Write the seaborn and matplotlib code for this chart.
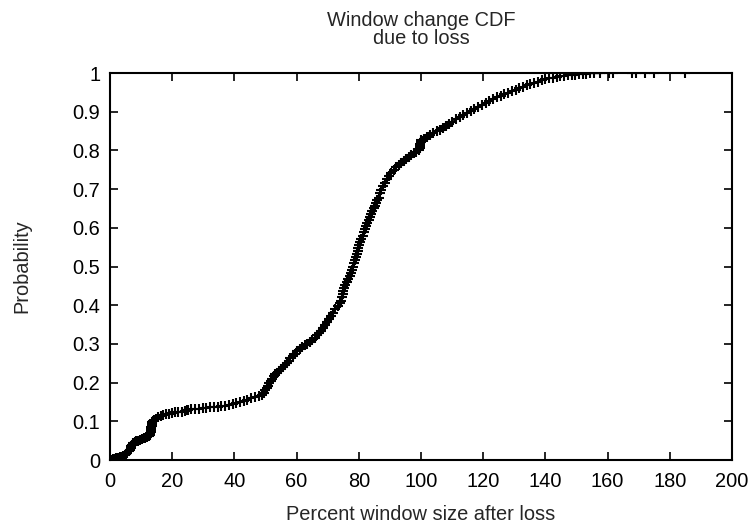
import pandas as pd
import matplotlib.pyplot as plt
import seaborn as sns

# Nilai, per bagian kurva (persen window setelah loss, probabilitas)
pct_a = [0.2, 0.5, 0.9, 1.3, 1.8, 2.3, 2.8, 3.3, 3.8, 4.3, 4.8, 5.2, 5.6, 6.0, 6.3,
         6.6, 6.9, 7.2, 7.5, 7.9, 8.4, 9.0, 9.6, 10.2, 10.8, 11.4, 12.0, 12.5, 12.9]
prob_a = [0.0, 0.001, 0.002, 0.003, 0.004, 0.005, 0.006, 0.007, 0.009, 0.011, 0.013,
          0.016, 0.019, 0.023, 0.027, 0.031, 0.035, 0.039, 0.043, 0.046, 0.048, 0.05,
          0.052, 0.054, 0.056, 0.058, 0.06, 0.062, 0.065]

pct_b = [13.0, 13.1, 13.2, 13.3, 13.3, 13.4, 13.5, 13.6, 13.8, 14.2, 14.8]
prob_b = [0.069, 0.073, 0.077, 0.081, 0.085, 0.089, 0.093, 0.097, 0.101, 0.104, 0.107]

pct_c = [15.5, 16.3, 17.1, 18.0, 19.0, 20.0, 21.0, 22.0, 23.0, 24.0, 24.6, 25.0, 26.2,
         27.4, 28.6, 29.8, 31.0, 32.2, 33.4, 34.6, 35.8, 37.0, 38.2, 39.4, 40.6, 41.8,
         43.0, 44.2, 45.4, 46.6, 47.8, 48.8, 49.5]
prob_c = [0.110, 0.113, 0.116, 0.118, 0.120, 0.122, 0.123, 0.124, 0.125, 0.126, 0.128,
          0.130, 0.131, 0.132, 0.133, 0.134, 0.135, 0.136, 0.137, 0.138, 0.139, 0.140,
          0.142, 0.144, 0.147, 0.150, 0.153, 0.156, 0.159, 0.162, 0.165, 0.169, 0.174]

pct_d = [50.0, 50.4, 50.8, 51.2, 51.7, 52.2, 52.7, 53.2, 53.8, 54.4, 55.0, 55.6, 56.2,
         56.8, 57.4, 58.0, 58.7, 59.4, 60.2, 61.0, 61.8, 62.6, 63.4, 64.2, 65.0, 65.8,
         66.6, 67.3, 68.0, 68.6, 69.2, 69.8, 70.4, 71.0, 71.7, 72.5, 73.3, 74.0]
prob_d = [0.180, 0.186, 0.192, 0.198, 0.204, 0.210, 0.216, 0.221, 0.226, 0.231, 0.236,
          0.241, 0.246, 0.251, 0.257, 0.263, 0.269, 0.275, 0.281, 0.286, 0.291, 0.296,
          0.301, 0.306, 0.311, 0.316, 0.322, 0.328, 0.334, 0.341, 0.348, 0.356, 0.364,
          0.372, 0.381, 0.390, 0.398, 0.405]

pct_e = [74.4, 74.6, 74.8, 75.0, 75.2, 75.6, 76.1, 76.6, 77.1, 77.5, 77.8, 78.1, 78.4,
         78.7, 79.0, 79.3, 79.6, 79.9, 80.2, 80.5, 80.8, 81.2, 81.6, 82.0, 82.4, 82.8,
         83.2, 83.6, 84.0, 84.4, 84.8, 85.2, 85.6, 86.0, 86.4, 86.8, 87.2, 87.7, 88.3,
         89.0, 89.7, 90.5, 91.3, 92.1, 92.9, 93.7, 94.5, 95.3, 96.1, 96.9, 97.7, 98.5,
         99.2]
prob_e = [0.412, 0.420, 0.428, 0.436, 0.444, 0.452, 0.460, 0.468, 0.476, 0.484, 0.492,
          0.500, 0.508, 0.516, 0.524, 0.532, 0.540, 0.548, 0.556, 0.564, 0.572, 0.580,
          0.588, 0.596, 0.604, 0.612, 0.620, 0.628, 0.636, 0.643, 0.650, 0.657, 0.664,
          0.671, 0.678, 0.690, 0.698, 0.708, 0.717, 0.727, 0.735, 0.742, 0.749, 0.756,
          0.762, 0.768, 0.773, 0.778, 0.783, 0.788, 0.793, 0.797, 0.801]

pct_f = [99.6, 99.7, 99.8, 99.9, 100.0]
prob_f = [0.806, 0.811, 0.816, 0.821, 0.826]

pct_g = [101.0, 102.0, 103.0, 104.0, 105.0, 106.0, 107.0, 108.0, 109.0, 110.0, 111.2,
         112.4, 113.6, 114.8, 116.0, 117.2, 118.4, 119.6, 120.8, 122.0, 123.2, 124.4,
         125.6, 126.8, 128.0, 129.2, 130.4, 131.6, 132.8, 134.0, 135.2, 136.4, 137.6,
         138.8, 140.0, 141.2, 142.4, 143.6, 144.8, 146.0, 147.2, 148.4, 149.6, 150.8,
         152.0, 153.2, 154.4]
prob_g = [0.829, 0.834, 0.839, 0.844, 0.849, 0.854, 0.859, 0.864, 0.869, 0.874, 0.880,
          0.886, 0.892, 0.897, 0.902, 0.907, 0.912, 0.917, 0.922, 0.927, 0.932, 0.937,
          0.941, 0.945, 0.949, 0.953, 0.957, 0.961, 0.965, 0.969, 0.972, 0.975, 0.978,
          0.981, 0.984, 0.986, 0.988, 0.990, 0.992, 0.993, 0.994, 0.995, 0.996, 0.997,
          0.998, 0.998, 0.999]

pct_h = [155.5, 157.6, 160.6, 161.6, 168.0, 169.0, 172.0, 175.0, 185.0]
prob_h = [0.999, 0.999, 1.0, 1.0, 1.0, 1.0, 1.0, 1.0, 1.0]

x_ticks = [0, 20, 40, 60, 80, 100, 120, 140, 160, 180, 200]
y_ticks = [0, 0.1, 0.2, 0.3, 0.4, 0.5, 0.6, 0.7, 0.8, 0.9, 1]
y_tick_labels = ['0', '0.1', '0.2', '0.3', '0.4', '0.5', '0.6', '0.7', '0.8', '0.9', '1']

df = pd.DataFrame({
    'Percent': pct_a + pct_b + pct_c + pct_d + pct_e + pct_f + pct_g + pct_h,
    'Probability': prob_a + prob_b + prob_c + prob_d + prob_e + prob_f + prob_g + prob_h,
})

sns.set_style('ticks')
plt.rcParams['font.family'] = ['Liberation Sans', 'DejaVu Sans']
fs = 14.4

fig = plt.figure(figsize=(7.55, 5.27), dpi=100)
ax = fig.add_axes([0.1457, 0.1271, 0.8238, 0.7343])

sns.lineplot(
    x='Percent', y='Probability', data=df, ax=ax,
    estimator=None, sort=False,
    color='black', linewidth=1.0,
    marker='+', markersize=6.5, markeredgewidth=1.5, markeredgecolor='black',
)

ax.set_xlim(0, 200)
ax.set_ylim(0, 1)
ax.set_xticks(x_ticks)
ax.set_yticks(y_ticks)
ax.set_yticklabels(y_tick_labels)
ax.tick_params(direction='in', length=5.5, width=1.2, top=True, right=True,
               labelsize=fs, colors='black')
ax.tick_params(axis='x', pad=8.5)
ax.tick_params(axis='y', pad=7)
for sp in ax.spines.values():
    sp.set_linewidth(1.5)
    sp.set_color('black')

ax.set_title('Window change CDF\ndue to loss', fontsize=fs, pad=21, linespacing=0.95)
ax.set_xlabel('Percent window size after loss', fontsize=fs, labelpad=10)
ax.set_ylabel('Probability', fontsize=fs)
ax.yaxis.set_label_coords(-0.127, 0.5)

fig.savefig('out.png', dpi=100)
plt.close()
